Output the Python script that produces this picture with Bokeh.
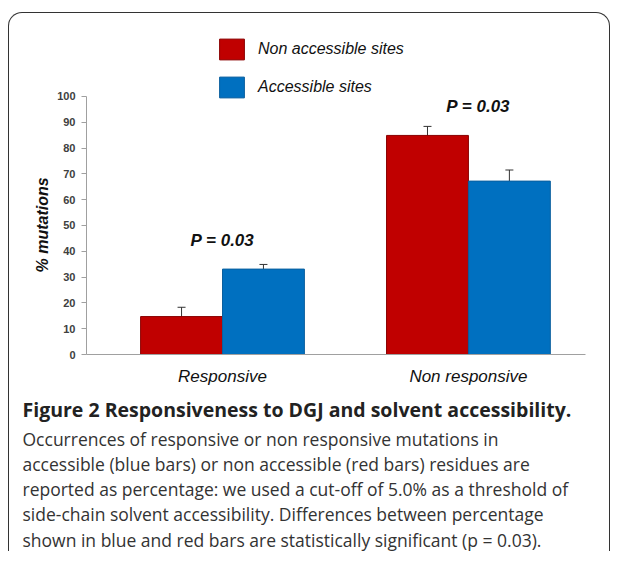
from bokeh.plotting import figure
from bokeh.layouts import column
from bokeh.models import (Range1d, FixedTicker, ColumnDataSource, Whisker, TeeHead,
                          Legend, LegendItem, Label, Title)
from bokeh.embed import file_html
from bokeh.resources import INLINE
from bokeh.core.properties import value

# ---- data ----
categories = ["Responsive", "Non responsive"]
series_names = ["Non accessible sites", "Accessible sites"]
non_accessible = [14.7, 84.9]
non_accessible_err = [3.6, 3.5]
accessible = [33.1, 67.2]
accessible_err = [1.8, 4.3]
p_labels = ["P = 0.03", "P = 0.03"]
y_ticks = [0, 10, 20, 30, 40, 50, 60, 70, 80, 90, 100]
y_title = "% mutations"
caption_title = "Figure 2 Responsiveness to DGJ and solvent accessibility."
caption_lines = [
    "Occurrences of responsive or non responsive mutations in",
    "accessible (blue bars) or non accessible (red bars) residues are",
    "reported as percentage: we used a cut-off of 5.0% as a threshold of",
    "side-chain solvent accessibility. Differences between percentage",
    "shown in blue and red bars are statistically significant (p = 0.03).",
]

RED = "#c00000"
BLUE = "#0070c0"
W = 0.333

xpos = [i + 1 for i in range(len(categories))]

p = figure(width=600, height=379, output_backend="svg", toolbar_location=None,
           x_range=Range1d(0.447, 2.476), y_range=Range1d(0, 124.4),
           min_border_left=77, min_border_right=24, min_border_top=20,
           min_border_bottom=38)
p.frame_align = False
p.outline_line_color = None
p.xgrid.visible = False
p.ygrid.visible = False
p.background_fill_color = "white"
p.border_fill_color = None

src_na = ColumnDataSource(dict(x=[x - W / 2 for x in xpos], top=non_accessible,
                               upper=[v + e for v, e in zip(non_accessible, non_accessible_err)],
                               lower=[v - e for v, e in zip(non_accessible, non_accessible_err)]))
src_a = ColumnDataSource(dict(x=[x + W / 2 for x in xpos], top=accessible,
                              upper=[v + e for v, e in zip(accessible, accessible_err)],
                              lower=[v - e for v, e in zip(accessible, accessible_err)]))

r_na = p.vbar(x="x", top="top", width=W, bottom=0, source=src_na,
              fill_color=RED, line_color="#8a0000", line_width=1)
r_a = p.vbar(x="x", top="top", width=W, bottom=0, source=src_a,
             fill_color=BLUE, line_color="#0a5f9e", line_width=1)

for src in (src_na, src_a):
    p.add_layout(Whisker(base="x", upper="upper", lower="lower", source=src,
                         line_color="#333333", line_width=1,
                         upper_head=TeeHead(size=8, line_color="#333333", line_width=1),
                         lower_head=TeeHead(size=8, line_color="#333333", line_width=1)))

# axes
ya = p.yaxis[0]
ya.ticker = FixedTicker(ticks=y_ticks)
ya.bounds = (0, 100)
ya.minor_tick_line_color = None
ya.major_tick_in = 0
ya.major_tick_out = 5
ya.major_label_standoff = 6
ya.axis_line_color = "#a0a0a0"
ya.major_tick_line_color = "#a0a0a0"
ya.major_label_text_font = "Liberation Sans"
ya.major_label_text_font_style = "bold"
ya.major_label_text_font_size = "11px"
ya.major_label_text_color = "#404040"

# y-axis title, placed along the 0-100 span of the axis
p.add_layout(Title(text=y_title, align="left", offset=82, standoff=8,
                   text_font="Liberation Sans", text_font_style="bold italic",
                   text_font_size="16px", text_color="#111111"), "left")

xa = p.xaxis[0]
xa.ticker = FixedTicker(ticks=xpos)
xa.major_label_overrides = {x: c for x, c in zip(xpos, categories)}
xa.minor_tick_line_color = None
xa.major_tick_line_color = None
xa.axis_line_color = "#a0a0a0"
xa.major_label_text_font = "Liberation Sans"
xa.major_label_text_font_style = "italic"
xa.major_label_text_font_size = "17px"
xa.major_label_text_color = "#111111"
xa.major_label_standoff = 6

# legend
legend = Legend(items=[LegendItem(label=series_names[0], renderers=[r_na]),
                       LegendItem(label=series_names[1], renderers=[r_a])],
                location=(130, 254), orientation="vertical",
                glyph_width=31, glyph_height=26, label_standoff=11, spacing=12,
                padding=0, margin=0, border_line_color=None, background_fill_alpha=0,
                label_text_font="Liberation Sans", label_text_font_style="italic",
                label_text_font_size="16px", label_text_color="#111111")
p.add_layout(legend, "center")

# p-value labels
p_offsets_x = [0.0, 0.04]
p_offsets_y = [9.3, 7.7]
p_y = [max(a + ae, n + ne) for a, ae, n, ne in zip(accessible, accessible_err, non_accessible, non_accessible_err)]
for x, lab, yy, dx, dy in zip(xpos, p_labels, p_y, p_offsets_x, p_offsets_y):
    p.add_layout(Label(x=x + dx, y=yy + dy, text=lab, text_align="center", text_baseline="middle",
                       text_font="Liberation Sans", text_font_style="bold italic",
                       text_font_size="17px", text_color="#111111"))

# caption figure
q = figure(width=600, height=159, output_backend="svg", toolbar_location=None,
           x_range=Range1d(0, 600), y_range=Range1d(159, 0),
           x_axis_type=None, y_axis_type=None,
           min_border_left=0, min_border_right=0, min_border_top=0, min_border_bottom=0)
q.frame_align = False
q.outline_line_color = None
q.xgrid.visible = False
q.ygrid.visible = False
q.background_fill_color = None
q.border_fill_color = None

cap_x = 13
q.text(x=[cap_x], y=[17], text=[caption_title], text_baseline="middle",
       text_font=value("Open Sans"), text_font_style="bold", text_font_size="19.5px",
       text_color="#222222")
q.text(x=[cap_x] * len(caption_lines), y=[46 + 25.3 * i for i in range(len(caption_lines))],
       text=caption_lines, text_baseline="middle", text_font=value("Open Sans"),
       text_font_size="17.5px", text_color="#333333")

layout = column(p, q, margin=(12, 0, 0, 8), spacing=0,
                styles={"border-top": "1px solid #333333",
                        "border-left": "1px solid #333333",
                        "border-right": "1px solid #333333",
                        "border-top-left-radius": "14px",
                        "border-top-right-radius": "14px"})

open("out.html", "w").write(file_html(layout, INLINE))
